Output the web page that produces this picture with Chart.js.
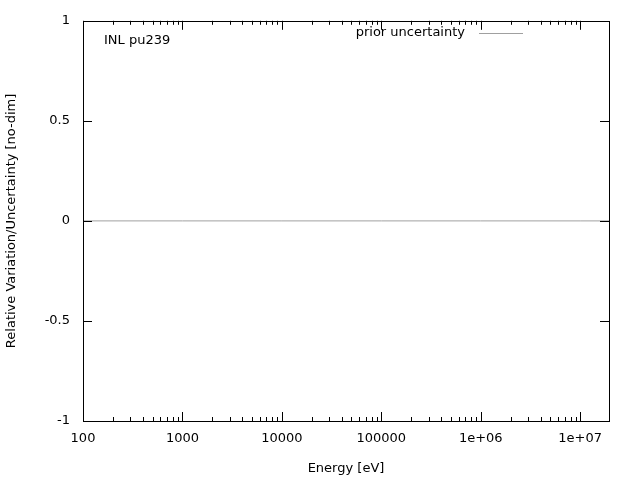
<!DOCTYPE html>
<html><head><meta charset="utf-8">
<script src="https://cdn.jsdelivr.net/npm/chart.js@4"></script>
<style>body{margin:0;background:#fff}</style></head>
<body><canvas id="c" width="640" height="480"></canvas>
<script>
const energies = [100, 1000, 10000, 100000, 1e6, 1e7, 2e7];
const priorUncertainty = [0, 0, 0, 0, 0, 0, 0];
const xTicks = [100, 1000, 10000, 100000, 1e6, 1e7];
const xTickLabels = ["100", "1000", "10000", "100000", "1e+06", "1e+07"];
const yTicks = [-1, -0.5, 0, 0.5, 1];
const yTickLabels = ["-1", "-0.5", "0", "0.5", "1"];
const FONT = "DejaVu Sans";

const deco = {
  id: 'deco',
  afterDraw(chart) {
    const ctx = chart.ctx, a = chart.chartArea;
    const xs = chart.scales.x, ys = chart.scales.y;
    ctx.save();
    ctx.strokeStyle = '#000'; ctx.lineWidth = 1;
    ctx.strokeRect(Math.round(a.left)+0.5, Math.round(a.top)+0.5, Math.round(a.right-a.left), Math.round(a.bottom-a.top));
    ctx.beginPath();
    // x ticks major+minor
    for (let d = 100; d <= 1e7; d *= 10) {
      for (let m = 1; m <= 9; m++) {
        const v = d*m; if (v > xs.max) break;
        const px = Math.round(xs.getPixelForValue(v))+0.5;
        const L = m === 1 ? 9 : 4;
        ctx.moveTo(px, a.bottom); ctx.lineTo(px, a.bottom-L);
        ctx.moveTo(px, a.top); ctx.lineTo(px, a.top+L);
      }
    }
    yTicks.forEach(v => {
      const py = Math.round(ys.getPixelForValue(v))+0.5;
      ctx.moveTo(a.left, py); ctx.lineTo(a.left+9, py);
      ctx.moveTo(a.right, py); ctx.lineTo(a.right-9, py);
    });
    ctx.stroke();
    ctx.fillStyle = '#000';
    ctx.font = '13px ' + FONT;
    ctx.textBaseline = 'middle';
    ctx.textAlign = 'left';
    ctx.fillText('INL pu239', 104, 41);
    ctx.textAlign = 'right';
    ctx.fillText(chart.data.datasets[0].label, 465, 33);
    ctx.strokeStyle = '#a0a0a0';
    ctx.beginPath(); ctx.moveTo(479, 33.5); ctx.lineTo(523, 33.5); ctx.stroke();
    ctx.restore();
  }
};

new Chart(document.getElementById('c'), {
  type: 'line',
  data: { labels: energies, datasets: [{
    label: 'prior uncertainty',
    data: energies.map((e,i)=>({x:e,y:priorUncertainty[i]})),
    borderColor: '#a0a0a0', borderWidth: 1, pointRadius: 0, tension: 0
  }]},
  options: {
    responsive: false, animation: false,
    layout: { padding: { top: 20, right: 31, left: 0, bottom: 0 } },
    plugins: { legend: { display: false }, tooltip: { enabled: false } },
    scales: {
      x: {
        type: 'logarithmic', min: 100, max: 1.95e7,
        afterBuildTicks: s => { s.ticks = xTicks.map(v => ({value: v})); },
        afterFit: s => { s.height = 59; },
        grid: { display: false, drawTicks: false },
        border: { display: false },
        ticks: { color: '#000', font: { family: FONT, size: 13 }, padding: 10, maxRotation: 0, autoSkip: false,
          callback: (v) => xTickLabels[xTicks.indexOf(v)] ?? '' },
        title: { display: true, text: 'Energy [eV]', color: '#000', font: { family: FONT, size: 13 }, padding: { top: 8 } }
      },
      y: {
        min: -1, max: 1,
        afterBuildTicks: s => { s.ticks = yTicks.map(v => ({value: v})); },
        afterFit: s => { s.width = 83; },
        grid: { display: false, drawTicks: false },
        border: { display: false },
        ticks: { color: '#000', font: { family: FONT, size: 13 }, padding: 13,
          callback: (v) => yTickLabels[yTicks.indexOf(v)] ?? '' },
        title: { display: true, text: 'Relative Variation/Uncertainty [no-dim]', color: '#000', font: { family: FONT, size: 13 }, padding: { bottom: 0 } }
      }
    }
  },
  plugins: [deco]
});
</script></body></html>
